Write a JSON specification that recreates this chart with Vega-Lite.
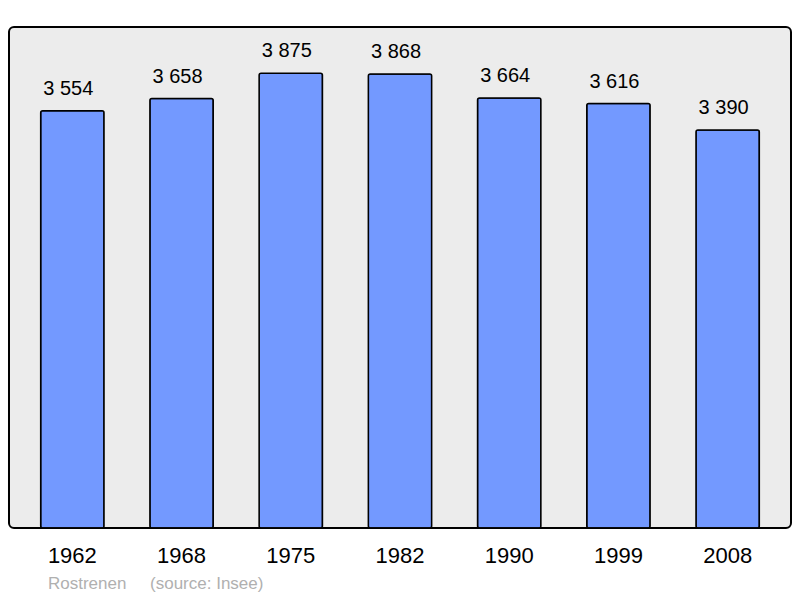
{
  "$schema": "https://vega.github.io/schema/vega-lite/v6.json",
  "autosize": "none",
  "width": 782,
  "height": 501,
  "padding": {"left": 9, "top": 27, "right": 9, "bottom": 70},
  "background": "#ffffff",
  "config": {
    "font": "Liberation Sans",
    "view": {"fill": "#ececec", "stroke": "#000000", "strokeWidth": 2, "cornerRadius": 5}
  },
  "title": {
    "text": "Rostrenen\u00a0\u00a0\u00a0\u00a0\u00a0(source: Insee)",
    "orient": "bottom",
    "anchor": "start",
    "dx": 39,
    "offset": 10,
    "fontSize": 17,
    "fontWeight": "normal",
    "color": "#b0b0b0",
    "font": "Liberation Sans"
  },
  "data": {
    "values": [
      {"year": "1962", "pop": 3554, "label": "3 554"},
      {"year": "1968", "pop": 3658, "label": "3 658"},
      {"year": "1975", "pop": 3875, "label": "3 875"},
      {"year": "1982", "pop": 3868, "label": "3 868"},
      {"year": "1990", "pop": 3664, "label": "3 664"},
      {"year": "1999", "pop": 3616, "label": "3 616"},
      {"year": "2008", "pop": 3390, "label": "3 390"}
    ]
  },
  "encoding": {
    "x": {
      "field": "year",
      "type": "nominal",
      "sort": null,
      "scale": {"paddingInner": 0.42, "paddingOuter": 0.29},
      "axis": {
        "title": null,
        "domain": false,
        "ticks": false,
        "labelAngle": 0,
        "labelFontSize": 22,
        "labelColor": "#000000",
        "labelPadding": 17,
        "labelFont": "Liberation Sans"
      }
    },
    "y": {
      "field": "pop",
      "type": "quantitative",
      "scale": {"domain": [0, 4268], "nice": false},
      "axis": null
    }
  },
  "layer": [
    {
      "mark": {"type": "bar", "fill": "#7399ff", "stroke": "#000000", "strokeWidth": 1.5, "cornerRadius": 2}
    },
    {
      "mark": {"type": "text", "baseline": "alphabetic", "dy": -16, "dx": -4, "fontSize": 20, "color": "#000000", "font": "Liberation Sans"},
      "encoding": {"text": {"field": "label"}}
    }
  ]
}
